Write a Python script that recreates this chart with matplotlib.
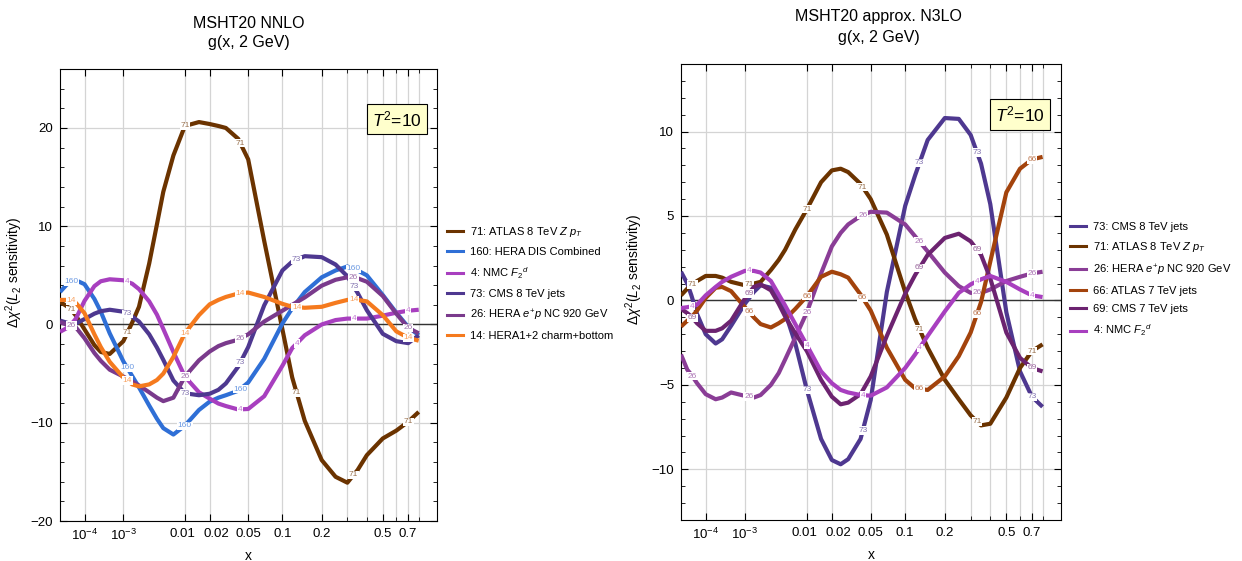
import numpy as np
import matplotlib.pyplot as plt
from matplotlib.colors import to_rgb
from matplotlib.transforms import ScaledTranslation

plt.rcParams['font.family'] = ['Liberation Sans', 'DejaVu Sans']
plt.rcParams['mathtext.fontset'] = 'custom'
plt.rcParams['mathtext.rm'] = 'Liberation Sans'
plt.rcParams['mathtext.it'] = 'Liberation Sans:italic'
plt.rcParams['mathtext.bf'] = 'Liberation Sans:bold'

# ---------------- data ----------------
x_grid = [1e-5, 2e-5, 3e-5, 5e-5, 1e-4, 2e-4, 3e-4, 5e-4, 1e-3, 1.5e-3, 2e-3,
          3e-3, 4e-3, 5e-3, 7e-3, 0.01, 0.015, 0.02, 0.025, 0.03, 0.04, 0.05,
          0.07, 0.1, 0.12, 0.15, 0.2, 0.25, 0.3, 0.35, 0.4, 0.5, 0.6, 0.7, 0.8]

# left panel: MSHT20 NNLO
nnlo_71 = [2.3, 1.9, 1.6, 0.9, -0.5, -2.1, -2.8, -3.0, -1.7, 0.2, 1.8, 6.2,
           10.2, 13.5, 17.2, 20.2, 20.6, 20.4, 20.2, 20.0, 18.9, 16.8, 8.5,
           -0.5, -5.4, -9.8, -13.8, -15.5, -16.1, -14.8, -13.3, -11.6, -10.8,
           -9.9, -8.9]
nnlo_160 = [3.3, 4.0, 4.35, 4.5, 4.1, 2.6, 1.3, -0.9, -3.75, -5.25, -6.4, -8.25,
            -9.6, -10.55, -11.2, -10.3, -8.7, -7.85, -7.45, -7.2, -6.75, -5.9,
            -3.5, 0.1, 1.65, 3.3, 4.8, 5.5, 5.9, 5.5, 5.0, 3.0, 1.2, -0.25, -1.1]
nnlo_4 = [-0.75, -0.4, -0.1, 0.6, 2.4, 3.9, 4.4, 4.6, 4.5, 4.15, 3.6, 2.35, 1.0,
          -0.45, -2.8, -5.3, -6.9, -7.55, -8.05, -8.3, -8.65, -8.6, -7.3, -4.2,
          -2.4, -1.1, 0.0, 0.45, 0.6, 0.6, 0.6, 0.9, 1.2, 1.4, 1.5]
nnlo_73 = [0.4, 0.2, 0.05, 0.1, 0.55, 1.1, 1.35, 1.5, 1.3, 0.8, 0.3, -1.0, -2.35,
           -3.6, -5.7, -7.0, -7.2, -7.05, -6.65, -6.0, -4.3, -2.3, 1.95, 5.5,
           6.4, 6.95, 6.85, 6.1, 4.9, 3.2, 1.45, -0.95, -1.7, -1.9, -1.1]
nnlo_26 = [0.25, 0.0, -0.05, -0.3, -1.4, -2.9, -3.7, -4.6, -5.3, -5.8, -6.2, -6.9,
           -7.45, -7.8, -7.45, -5.3, -3.65, -2.75, -2.2, -1.9, -1.55, -1.0, 0.3,
           1.4, 2.0, 2.75, 3.95, 4.55, 4.8, 4.7, 4.35, 2.9, 1.1, -0.35, -0.9]
nnlo_14 = [2.5, 2.5, 2.45, 2.2, 1.15, -1.0, -2.3, -3.8, -5.4, -6.1, -6.3, -6.1,
           -5.65, -5.0, -3.3, -0.9, 0.95, 2.05, 2.5, 2.8, 3.15, 3.25, 2.8, 2.1,
           1.8, 1.7, 1.8, 2.2, 2.5, 2.5, 2.35, 0.95, -0.7, -1.35, -1.65]

# right panel: MSHT20 approx. N3LO
n3lo_73 = [1.7, 1.0, 0.3, -0.8, -2.0, -2.55, -2.3, -1.5, -0.2, 0.5, 0.9, 0.75,
           0.15, -0.7, -2.55, -5.3, -8.2, -9.45, -9.7, -9.4, -8.2, -5.9, 0.5,
           5.6, 7.4, 9.5, 10.8, 10.75, 9.8, 8.1, 5.7, -0.7, -4.2, -5.7, -6.3]
n3lo_71 = [0.3, 0.7, 0.9, 1.15, 1.45, 1.45, 1.35, 1.1, 0.9, 1.0, 1.1, 1.8, 2.4,
           3.0, 4.2, 5.4, 7.0, 7.7, 7.8, 7.6, 6.9, 6.0, 3.9, 0.5, -1.1, -2.8,
           -4.7, -5.85, -6.8, -7.4, -7.3, -5.75, -4.0, -3.0, -2.6]
n3lo_26 = [-3.2, -4.1, -4.4, -4.9, -5.55, -5.85, -5.75, -5.45, -5.65, -5.75, -5.6,
           -5.0, -4.3, -3.5, -2.2, -0.7, 1.6, 3.2, 4.0, 4.5, 5.0, 5.25, 5.2, 4.5,
           3.8, 2.9, 1.65, 0.85, 0.45, 0.45, 0.65, 1.15, 1.4, 1.6, 1.7]
n3lo_66 = [-1.55, -1.2, -1.0, -0.6, 0.15, 0.75, 0.8, 0.55, -0.4, -1.0, -1.4, -1.6,
           -1.35, -1.1, -0.5, 0.25, 1.4, 1.7, 1.55, 1.35, 0.35, -0.6, -2.8, -4.7,
           -5.2, -5.3, -4.5, -3.3, -1.9, -0.1, 2.3, 6.4, 7.8, 8.35, 8.5]
n3lo_69 = [-0.5, -0.75, -0.95, -1.35, -1.8, -1.8, -1.65, -1.2, 0.1, 0.8, 0.95, 0.6,
           -0.2, -0.95, -1.95, -3.0, -4.7, -5.7, -6.15, -6.05, -5.55, -4.5, -2.1,
           0.4, 1.5, 2.7, 3.7, 3.95, 3.5, 2.7, 1.3, -1.9, -3.4, -4.0, -4.2]
n3lo_4 = [-0.45, -0.4, -0.35, -0.25, 0.3, 0.8, 1.1, 1.4, 1.75, 1.75, 1.65, 1.15,
          0.35, -0.3, -1.4, -2.65, -4.2, -4.9, -5.3, -5.45, -5.6, -5.64, -5.15,
          -4.0, -3.2, -2.1, -0.65, 0.45, 0.95, 1.25, 1.45, 1.1, 0.65, 0.3, 0.2]

label_x = [3.3e-5, 1.2e-3, 0.01, 0.042, 0.13, 0.33, 0.7]

left_ids = ['71', '160', '4', '73', '26', '14']
left_names = [r'71: ATLAS 8 TeV $Z\ p_T$', '160: HERA DIS Combined',
              r'4: NMC $F_2{}^d$', '73: CMS 8 TeV jets',
              r'26: HERA $e^{+}p$ NC 920 GeV', '14: HERA1+2 charm+bottom']
left_series = [nnlo_71, nnlo_160, nnlo_4, nnlo_73, nnlo_26, nnlo_14]
left_colors = ['#6b3300', '#2f6fd6', '#a83fbf', '#4e3890', '#7a3a8c', '#f57a1e']

right_ids = ['73', '71', '26', '66', '69', '4']
right_names = ['73: CMS 8 TeV jets', r'71: ATLAS 8 TeV $Z\ p_T$',
               r'26: HERA $e^{+}p$ NC 920 GeV', '66: ATLAS 7 TeV jets',
               '69: CMS 7 TeV jets', r'4: NMC $F_2{}^d$']
right_series = [n3lo_73, n3lo_71, n3lo_26, n3lo_66, n3lo_69, n3lo_4]
right_colors = ['#4e3890', '#6b3300', '#8a3d96', '#a3430c', '#6c2370', '#a83fbf']

xticks_major = [1e-4, 1e-3, 0.01, 0.02, 0.05, 0.1, 0.2, 0.5, 0.7]
xtick_labels = [r'$10^{-4}$', r'$10^{-3}$', '0.01', '0.02', '0.05', '0.1', '0.2',
                '0.5', '0.7']
xticks_minor = [0.3, 0.4, 0.6, 0.8]


def fwd(x):
    return np.power(np.clip(x, 1e-12, None), 0.2)


def inv(y):
    return np.power(np.clip(y, 0, None), 5)


def lighter(c, amt=0.3):
    r = np.array(to_rgb(c))
    return tuple(r + (1 - r) * amt)


def draw_panel(ax, ids, series, colors, ylim, ymaj, ymin_step, height_px, ylab_x):
    xs = np.array(x_grid)
    # label y-positions, used to hide labels that a later curve covers
    lab_y = [[np.interp(fwd(xl), fwd(xs), ys) for xl in label_x] for ys in series]
    thr = 8.5 * (ylim[1] - ylim[0]) / height_px
    for i, (sid, ys, col) in enumerate(zip(ids, series, colors)):
        z = 3 + i * 0.1
        ax.plot(xs, ys, color=col, lw=3.0, solid_capstyle='butt',
                solid_joinstyle='round', zorder=z)
        for k, xl in enumerate(label_x):
            yl = lab_y[i][k]
            covered = any(abs(lab_y[j][k] - yl) < thr for j in range(i + 1, len(series)))
            if covered:
                continue
            ax.text(xl, yl, sid, fontsize=6, color=lighter(col), ha='center',
                    va='center', zorder=z + 0.05,
                    bbox=dict(boxstyle='square,pad=0.08', fc='white', ec='none'))
    ax.set_xscale('function', functions=(fwd, inv))
    ax.set_xlim(1e-5, 1)
    ax.set_ylim(*ylim)
    ax.set_xticks(xticks_major)
    ax.set_xticklabels(xtick_labels)
    ax.set_xticks(xticks_minor, minor=True)
    ax.set_yticks(ymaj)
    ax.set_yticks(np.arange(ylim[0], ylim[1] + 0.01, ymin_step), minor=True)
    ax.grid(True, which='both', axis='x', color='#d4d4d4', lw=0.9, zorder=0)
    ax.grid(True, which='major', axis='y', color='#d4d4d4', lw=0.9, zorder=0)
    ax.axhline(0, color='#333333', lw=1.0, zorder=2)
    ax.tick_params(which='both', direction='in', top=True, right=True,
                   labelsize=9.5, pad=5)
    ax.tick_params(which='major', length=5)
    ax.tick_params(which='minor', length=3)
    # nudge the crowded 0.01 / 0.02 labels apart, as in the reference
    for lab in ax.get_xticklabels():
        if lab.get_text() == '0.02':
            lab.set_transform(lab.get_transform() +
                              ScaledTranslation(5 / 72, 0, ax.figure.dpi_scale_trans))
        if lab.get_text() == '0.01':
            lab.set_transform(lab.get_transform() +
                              ScaledTranslation(-1.5 / 72, 0, ax.figure.dpi_scale_trans))
    ax.set_xlabel('x', fontsize=10)
    ax.set_ylabel(r'$\Delta\chi^2(L_2$ sensitivity)', fontsize=10)
    ax.yaxis.set_label_coords(ylab_x, 0.55)
    ax.text(0.893, 0.889, r'$T^2$=10', transform=ax.transAxes, fontsize=12.5,
            ha='center', va='center', zorder=10,
            bbox=dict(boxstyle='square,pad=0.3', fc='#ffffcc', ec='black', lw=0.8))


fig = plt.figure(figsize=(12.42, 5.61), dpi=100)
ax1 = fig.add_axes([60 / 1242, 1 - 521 / 561, 377 / 1242, 452 / 561])
ax2 = fig.add_axes([681 / 1242, 1 - 520 / 561, 380 / 1242, 456 / 561])

draw_panel(ax1, left_ids, left_series, left_colors, (-20, 26),
           [-20, -10, 0, 10, 20], 2, 452, -0.093)
draw_panel(ax2, right_ids, right_series, right_colors, (-13, 14),
           [-10, -5, 0, 5, 10], 1, 456, -0.095)

ax1.set_title('MSHT20 NNLO\ng(x, 2 GeV)', fontsize=11.5, pad=16, linespacing=1.35)
ax2.set_title('MSHT20 approx. N3LO\ng(x, 2 GeV)', fontsize=11.5, pad=16,
              linespacing=1.45, x=0.52)

for ax, names, colors, anchor in [(ax1, left_names, left_colors, (447, 283)),
                                  (ax2, right_names, right_colors, (1070, 280))]:
    handles = [plt.Line2D([], [], color=c, lw=2.2) for c in colors]
    fig.legend(handles, names, loc='center left',
               bbox_to_anchor=(anchor[0] / 1242, 1 - anchor[1] / 561),
               frameon=False, fontsize=8, handlelength=1.45, handletextpad=0.6,
               labelspacing=0.75, borderpad=0, borderaxespad=0)

fig.savefig('out.png', dpi=100)
